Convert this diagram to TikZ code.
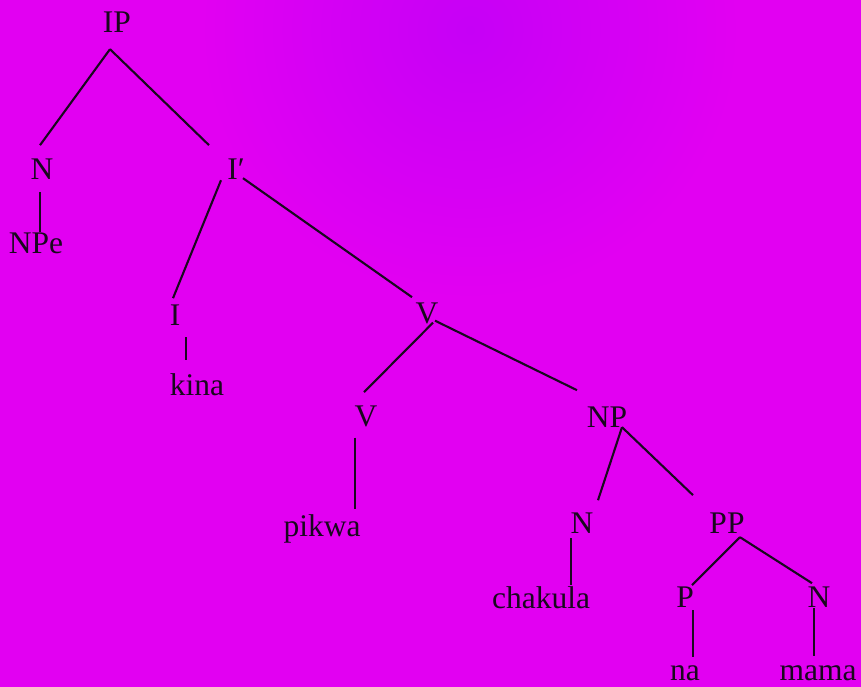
\documentclass[tikz,border=0pt]{standalone}
\usepackage{fontspec}
\setmainfont{Liberation Serif}
\usetikzlibrary{calc}
\definecolor{magbg}{RGB}{226,0,242}
\definecolor{purbg}{RGB}{198,0,246}
\definecolor{ink}{RGB}{25,8,30}
\begin{document}
\begin{tikzpicture}[x=1pt,y=-1pt,
  cat/.style={anchor=base,inner sep=0pt,text=ink,font=\fontsize{31.5}{38}\selectfont},
  branch/.style={draw=ink,line width=2.1pt}]
\pgfmathsetmacro{\w}{861}
\pgfmathsetmacro{\h}{687}
%paper
\useasboundingbox (0,0) rectangle (\w,\h);
\fill[magbg] (0,0) rectangle (\w,\h);
\begin{scope}
\clip (0,0) rectangle (\w,\h);
\shade[inner color=purbg,outer color=magbg] (470,30) circle (270);
\end{scope}
%labels
\node[cat] (ip) at (117,33) {IP};
\node[cat] (nsub) at (42,179) {N};
\node[cat] (npe) at (36,253) {NPe};
\node[cat] (ibar) at (236,179) {I′};
\node[cat] (infl) at (175,325) {I};
\node[cat] (kina) at (197,395) {kina};
\node[cat] (vbar) at (427,323) {V};
\node[cat] (verb) at (366,426) {V};
\node[cat] (pikwa) at (322,536) {pikwa};
\node[cat] (np) at (607,427) {NP};
\node[cat] (nobj) at (582,533) {N};
\node[cat] (chakula) at (541,608) {chakula};
\node[cat] (pp) at (727,533) {PP};
\node[cat] (prep) at (685,607) {P};
\node[cat] (nmama) at (819,607) {N};
\node[cat] (na) at (685,680) {na};
\node[cat] (mama) at (818,680) {mama};
%branches
\draw[branch] ($(ip.south)+(-7,16)$)--($(nsub.north)+(-2,-13)$);
\draw[branch] ($(ip.south)+(-7,16)$)--($(ibar.north)+(-27,-13)$);
\draw[branch] ($(nsub.south)+(-2,13)$)--($(npe.north)+(4,0)$);
\draw[branch] ($(ibar.south)+(-15,1)$)--($(infl.north)+(-2,-6)$);
\draw[branch] ($(ibar.south)+(7,-1)$)--($(vbar.north)+(-15,-5)$);
\draw[branch] ($(infl.south)+(11,12)$)--($(kina.north)+(-11,-13)$);
\draw[branch] ($(vbar.south)+(6,-1)$)--($(verb.north)+(-2,-13)$);
\draw[branch] ($(vbar.south)+(8,-3)$)--($(np.north)+(-30,-16)$);
\draw[branch] ($(verb.south)+(-11,11)$)--($(pikwa.north)+(33,-5)$);
\draw[branch] ($(np.south)+(15,0)$)--($(nobj.north)+(16,-12)$);
\draw[branch] ($(np.south)+(15,0)$)--($(pp.north)+(-34,-17)$);
\draw[branch] ($(nobj.south)+(-11,5)$)--($(chakula.north)+(30,-1)$);
\draw[branch] ($(pp.south)+(13,4)$)--($(prep.north)+(7,-1)$);
\draw[branch] ($(pp.south)+(13,4)$)--($(nmama.north)+(-7,-3)$);
\draw[branch] ($(prep.south)+(8,3)$)--($(na.north)+(8,-8)$);
\draw[branch] ($(nmama.south)+(-5,1)$)--($(mama.north)+(-4,-9)$);
\end{tikzpicture}
\end{document}
